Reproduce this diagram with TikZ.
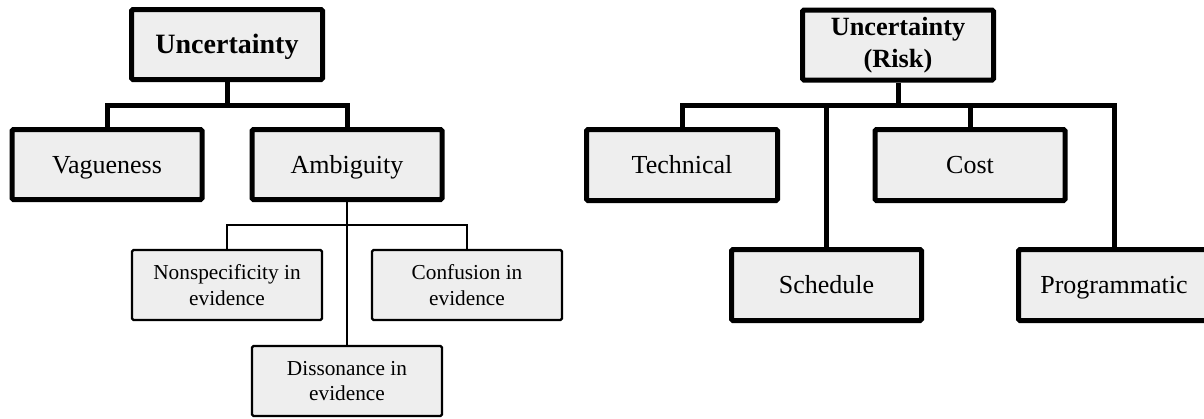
\documentclass[tikz,border=0pt]{standalone}
\usepackage{fontspec}
\setmainfont{Liberation Serif}
\begin{document}
\begin{tikzpicture}[x=1pt,y=-1pt,
  box/.style={draw=black, fill=boxgray, rounded corners=1.5pt, inner sep=0pt, align=center},
  bigbox/.style={box, line width=5pt, minimum height=70pt,
    font=\fontsize{26}{31}\selectfont},
  oneline/.style={text height=17.2pt, text depth=0pt},
  smallbox/.style={box, line width=2.3pt, minimum height=70pt, minimum width=190pt,
    font=\fontsize{21.3}{25.7}\selectfont},
  thickline/.style={line width=5pt},
  thinline/.style={line width=2.3pt}]
\definecolor{boxgray}{HTML}{EEEEEE}
\useasboundingbox (0,0) rectangle (1204,418);

% first hierarchy
\node[bigbox, minimum width=191pt, text height=18.5pt, text depth=0pt,
      font=\fontsize{28}{33}\selectfont\bfseries] (u1) at (227,44.5) {Uncertainty};
\node[bigbox, oneline, minimum width=190pt] (vag) at (107,164.5) {Vagueness};
\node[bigbox, oneline, minimum width=190pt] (amb) at (347,164.5) {Ambiguity};
\node[smallbox] (non) at (227,285) {Nonspecificity in\\evidence};
\node[smallbox] (con) at (467,285) {Confusion in\\evidence};
\node[smallbox] (dis) at (347,381) {Dissonance in\\evidence};

\coordinate (j1) at (227,105);
\coordinate (j2) at (347,225);
\draw[thickline] (u1.south) -- (j1);
\draw[thickline] (vag.north) |- (j1) -| (amb.north);
\draw[thinline] (amb.south) -- (dis.north);
\draw[thinline] (non.north) |- (j2) -| (con.north);

% second hierarchy
\node[bigbox, minimum width=191pt, font=\fontsize{26.3}{32}\selectfont\bfseries] (ur) at (898,45) {Uncertainty\\(Risk)};
\node[bigbox, oneline, minimum width=191pt, minimum height=71pt] (tech) at (682,165) {Technical};
\node[bigbox, oneline, minimum width=190pt, minimum height=71pt] (cost) at (970,165) {Cost};
\node[bigbox, oneline, minimum width=190pt, minimum height=71pt] (sch) at (826.5,285) {Schedule};
\node[bigbox, oneline, minimum width=191pt, minimum height=71pt] (prog) at (1114,285) {Programmatic};

\coordinate (j3) at (898,105);
\draw[thickline] (ur.south) -- (j3);
\draw[thickline] (tech.north) |- (j3) -| (prog.north);
\draw[thickline] (sch.north) -- (sch.north |- j3);
\draw[thickline] (cost.north) -- (cost.north |- j3);
\end{tikzpicture}
\end{document}
